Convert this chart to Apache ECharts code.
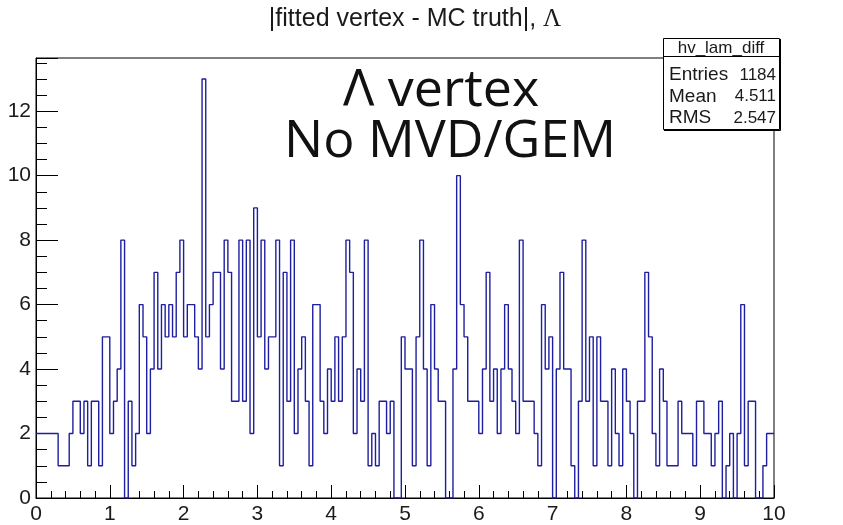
<!DOCTYPE html>
<html><head><meta charset="utf-8">
<script src="https://cdn.jsdelivr.net/npm/echarts@6/dist/echarts.min.js"></script>
<style>html,body{margin:0;padding:0;background:#fff}#c{width:843px;height:525px}</style>
</head><body><div id="c"></div>
<script>
// ---- data ----
const chartTitleMain = '|fitted vertex - MC truth|, ';
const chartTitleSymbol = '\u039B';
const xMin = 0, xMax = 10, binWidth = 0.05;
const yMax = 13.65;
const counts = [
  2,2,2,2,2,2,1,1,1,2,
  3,3,2,3,1,3,3,1,5,5,
  2,3,4,8,0,3,1,2,6,5,
  2,4,7,4,6,5,6,5,7,8,
  5,6,6,5,4,13,5,6,7,7,
  4,8,7,3,3,8,3,8,2,9,
  5,8,4,5,5,8,1,7,3,8,
  2,4,5,3,1,6,6,3,2,4,
  3,5,3,5,8,7,2,4,3,8,
  1,2,1,3,3,2,3,0,0,5,
  4,4,1,5,8,4,1,6,4,3,
  3,0,0,4,10,6,5,3,3,3,
  2,4,7,3,4,2,4,6,4,3,
  2,8,3,3,3,2,1,6,4,5,
  0,4,7,4,4,1,0,3,8,3,
  5,1,5,3,3,1,4,2,1,4,
  3,2,0,3,3,7,5,2,1,4,
  3,1,1,1,3,2,2,2,1,3,
  3,2,2,1,2,3,0,1,2,0,
  2,6,1,3,3,0,0,1,2,2
];
const xTickLabels = ['0','1','2','3','4','5','6','7','8','9','10'];
const yTickLabels = ['0','2','4','6','8','10','12'];
const statsName = 'hv_lam_diff';
const statsLabels = ['Entries', 'Mean', 'RMS'];
const statsValues = ['1184', '4.511', '2.547'];
const noteLines = ['\u039B vertex', 'No MVD/GEM'];

// ---- build ----
const stepData = counts.map((c, i) => [xMin + i * binWidth, c]);
stepData.push([xMax, counts[counts.length - 1]]);

const chart = echarts.init(document.getElementById('c'), null, {renderer: 'canvas'});
const labelFont = 'Liberation Sans, Arial, sans-serif';
const txt = '#1a1a1a';

const statsGraphics = [];
statsGraphics.push({type: 'rect', shape: {x: 663.5, y: 38.5, width: 116, height: 91},
  style: {fill: '#fff', stroke: '#000', lineWidth: 1}, z: 10});
statsGraphics.push({type: 'polyline', shape: {points: [[780.5, 39], [780.5, 130.5], [664, 130.5]]},
  style: {stroke: '#000', lineWidth: 1, fill: null}, z: 10});
statsGraphics.push({type: 'line', shape: {x1: 663.5, y1: 56.5, x2: 779.5, y2: 56.5},
  style: {stroke: '#000', lineWidth: 1}, z: 11});
statsGraphics.push({type: 'text', x: 721, y: 48, z: 11,
  style: {text: statsName, font: '17px ' + labelFont, fill: txt, textAlign: 'center', textVerticalAlign: 'middle'}});
statsLabels.forEach((l, i) => {
  statsGraphics.push({type: 'text', x: 669, y: 75 + i * 21.5, z: 11,
    style: {text: l, font: '19px ' + labelFont, fill: txt, textAlign: 'left', textVerticalAlign: 'middle'}});
  statsGraphics.push({type: 'text', x: 776, y: 75 + i * 21.5, z: 11,
    style: {text: statsValues[i], font: '17px ' + labelFont, fill: txt, textAlign: 'right', textVerticalAlign: 'middle'}});
});

const option = {
  animation: false,
  backgroundColor: '#fff',
  grid: {left: 36, right: 69, top: 58, bottom: 22, show: true, borderColor: '#000', borderWidth: 1, backgroundColor: 'transparent'},
  xAxis: {
    type: 'value', min: xMin, max: xMax, interval: 1,
    axisLine: {show: true, lineStyle: {color: '#000', width: 1}},
    axisTick: {show: true, inside: true, length: 13, lineStyle: {color: '#000'}},
    minorTick: {show: true, splitNumber: 5, length: 7, lineStyle: {color: '#000'}},
    splitLine: {show: false},
    axisLabel: {fontSize: 21, fontFamily: labelFont, color: txt, margin: 6,
      formatter: v => xTickLabels[Math.round(v)] || ''}
  },
  yAxis: [{
    type: 'value', min: 0, max: yMax, interval: 0.5,
    axisLine: {show: true, lineStyle: {color: '#000', width: 1}},
    axisTick: {show: true, inside: true, length: 11, lineStyle: {color: '#000'}},
    splitLine: {show: false},
    axisLabel: {fontSize: 21, fontFamily: labelFont, color: txt, margin: 5,
      formatter: v => { const s = String(Math.round(v * 100) / 100); return yTickLabels.includes(s) ? s : ''; }}
  }, {
    type: 'value', min: 0, max: yMax, interval: 2, position: 'left',
    axisLine: {show: false},
    axisTick: {show: true, inside: true, length: 22, lineStyle: {color: '#000'}},
    splitLine: {show: false},
    axisLabel: {show: false}
  }],
  series: [{
    type: 'line', step: 'end', data: stepData, symbol: 'none', yAxisIndex: 0,
    lineStyle: {color: '#1e1ea0', width: 1.4}
  }],
  graphic: [
    {type: 'text', x: 415, y: 19, style: {
      text: '{a|' + chartTitleMain + '}{b|' + chartTitleSymbol + '}',
      rich: {a: {font: '25px ' + labelFont, fill: txt}, b: {font: '25px "Liberation Serif", serif', fill: txt}},
      textAlign: 'center', textVerticalAlign: 'middle'}},
    {type: 'text', x: 441, y: 91, z: 5, style: {text: noteLines[0], font: '52px "Open Sans", sans-serif', fill: '#111', textAlign: 'center', textVerticalAlign: 'middle'}},
    {type: 'text', x: 450, y: 142, z: 5, style: {text: noteLines[1], font: '52px "Open Sans", sans-serif', fill: '#111', textAlign: 'center', textVerticalAlign: 'middle'}}
  ].concat(statsGraphics)
};
chart.setOption(option);
</script>
</body></html>
